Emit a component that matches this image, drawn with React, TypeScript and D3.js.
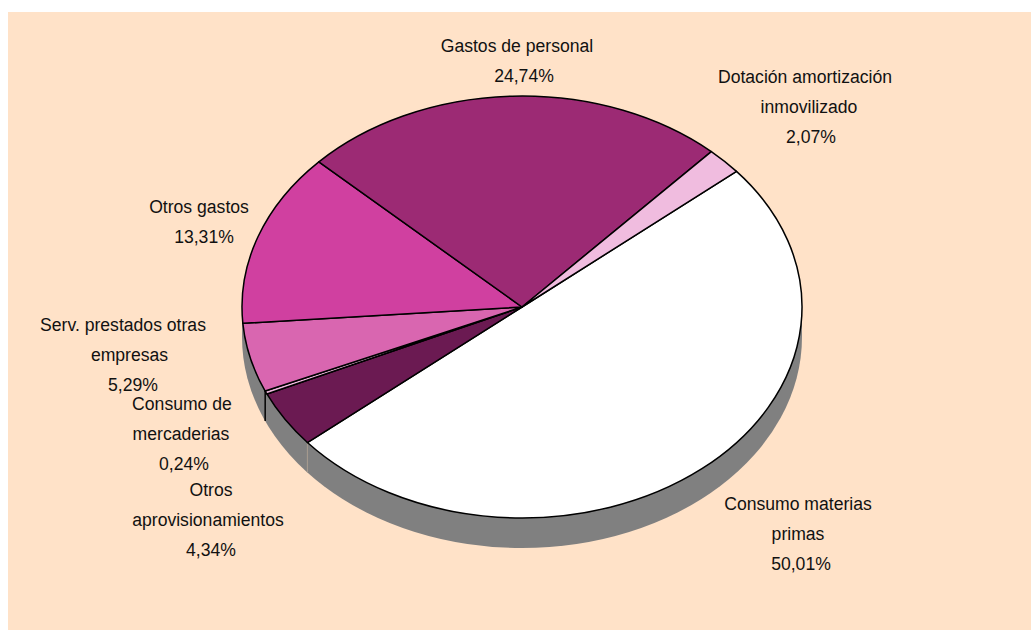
import React from "react";
import * as d3 from "d3";

const categories = ["Consumo materias primas","Otros aprovisionamientos","Consumo de mercaderias","Serv. prestados otras empresas","Otros gastos","Gastos de personal","Dotación amortización inmovilizado"];
const values = [50.01,4.34,0.24,5.29,13.31,24.74,2.07];
const colors = ["#FFFFFF","#6B1A52","#F0B8DE","#D966B0","#D040A0","#9C2A74","#F0BCDF"];
const labelLines = [
  ["Consumo materias","primas","50,01%"],
  ["Otros","aprovisionamientos","4,34%"],
  ["Consumo de","mercaderias","0,24%"],
  ["Serv. prestados otras","empresas","5,29%"],
  ["Otros gastos","13,31%"],
  ["Gastos de personal","24,74%"],
  ["Dotación amortización","inmovilizado","2,07%"],
];
const labelCentres = [
  [798,798,801],
  [211,208,211],
  [182,181,184],
  [123,129.5,133],
  [199,204],
  [517,524],
  [805,809,811],
];
const labelBaselines = [510,496,410,331,213,52,83];

const W = 1031, H = 630, cx = 522, cy = 307, rx = 280, ry = 211, depth = 30;
const startDeg = 50;
const R = 10000;

export default function App() {
  const start = (startDeg * Math.PI) / 180;
  const pie = d3.pie<number>().sort(null).startAngle(start).endAngle(start + 2 * Math.PI);
  const arcs = pie(values);
  const arc = d3.arc<d3.PieArcDatum<number>>().innerRadius(0).outerRadius(R);
  const full = d3.arc<any>().innerRadius(0).outerRadius(R).startAngle(0).endAngle(2 * Math.PI)({} as any) as string;
  const edge = (a: number): [number, number] => [cx + rx * Math.sin(a), cy - ry * Math.cos(a)];
  const e2 = edge(arcs[1].startAngle);
  const e3 = edge(arcs[3].startAngle);
  return (
    <svg width={W} height={H} style={{ position: "absolute", left: 0, top: 0 }}>
      <rect x={8} y={12} width={W - 8} height={H - 12} fill="#FFE2C8" />
      <g transform={`translate(${cx},${cy + depth}) scale(${rx / R},${ry / R})`}>
        <path d={full} fill="#808080" />
      </g>
      <rect x={cx - rx} y={cy} width={2 * rx} height={depth} fill="#808080" />
      <line x1={e3[0]} y1={e3[1]} x2={e3[0]} y2={e3[1] + depth} stroke="#000" strokeWidth={1.5} />
      <line x1={e2[0]} y1={e2[1]} x2={e2[0]} y2={e2[1] + depth} stroke="#A89C90" strokeWidth={1} />
      <g transform={`translate(${cx},${cy}) scale(${rx / R},${ry / R})`}>
        {arcs.map((a, i) => (
          <path key={categories[i]} d={arc(a) as string} fill={colors[i]} stroke="#000" strokeWidth={1.5} vectorEffect="non-scaling-stroke" strokeLinejoin="round" />
        ))}
      </g>
      <g fontFamily="'Liberation Sans', Arial, sans-serif" fontSize={17.6} fill="#111" textAnchor="middle">
        {labelLines.map((lines, i) => (
          <text key={categories[i]}>
            {lines.map((l, j) => (
              <tspan key={j} x={labelCentres[i][j]} y={labelBaselines[i] + j * 30}>{l}</tspan>
            ))}
          </text>
        ))}
      </g>
    </svg>
  );
}
